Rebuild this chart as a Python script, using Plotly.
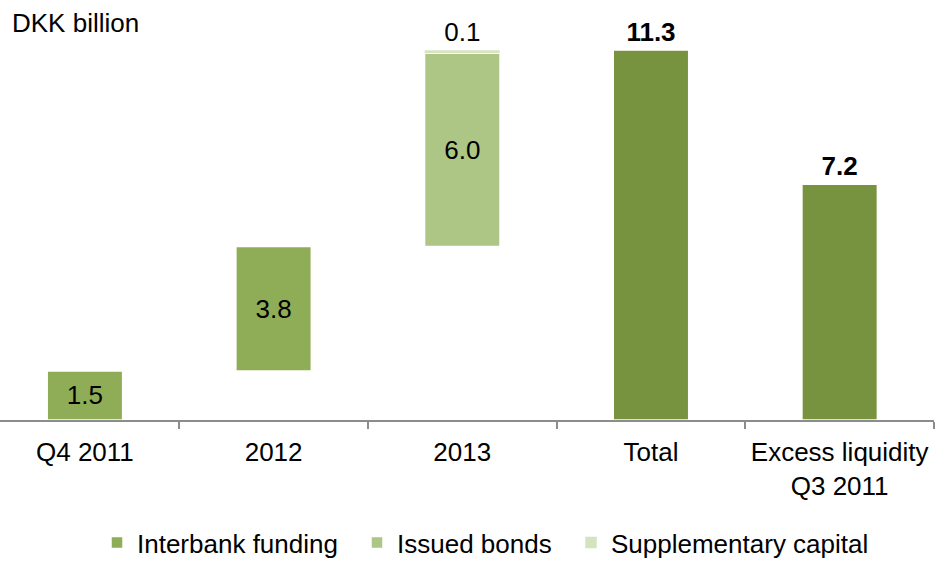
import plotly.graph_objects as go
import numpy as np

categories = ["Q4 2011", "2012", "2013", "Total", "Excess liquidity<br>Q3 2011"]

interbank_x = ["Q4 2011", "2012"]
interbank_vals = [1.5, 3.8]
interbank_labels = ["1.5", "3.8"]

bonds_x = ["2013"]
bonds_vals = [5.9]
bonds_labels = ["6.0"]

supp_x = ["2013"]
supp_vals = [0.1]
supp_labels = ["0.1"]

total_x = ["Total", "Excess liquidity<br>Q3 2011"]
total_vals = [11.3, 7.2]
total_labels = ["<b>11.3</b>", "<b>7.2</b>"]

# waterfall bases from cumulative sums
steps = interbank_vals + bonds_vals + supp_vals
cum = np.concatenate([[0], np.cumsum(steps)])
interbank_base = list(cum[0:2])
bonds_base = list(cum[2:3])
supp_base = list(cum[3:4])

C_INTER = "#8FAD56"
C_BONDS = "#ADC585"
C_SUPP = "#D5E3BF"
C_TOTAL = "#78933F"

FONT = "Liberation Sans, Arial, sans-serif"
FS = 26
W = 0.4
line = dict(color="white", width=1.5)

fig = go.Figure()
fig.add_bar(x=interbank_x, y=interbank_vals, base=interbank_base, name="Interbank funding",
            marker=dict(color=C_INTER, line=line), width=W, legend="legend",
            text=interbank_labels, textposition="inside", insidetextanchor="middle",
            textfont=dict(color="black", size=FS, family=FONT), textangle=0, hoverinfo="skip")
fig.add_bar(x=bonds_x, y=bonds_vals, base=bonds_base, name="Issued bonds",
            marker=dict(color=C_BONDS, line=line), width=W, legend="legend2",
            text=bonds_labels, textposition="inside", insidetextanchor="middle",
            textfont=dict(color="black", size=FS, family=FONT), textangle=0, hoverinfo="skip")
fig.add_bar(x=supp_x, y=supp_vals, base=supp_base, name="Supplementary capital",
            marker=dict(color=C_SUPP, line=dict(color="white", width=0.5)), width=W, legend="legend3",
            text=supp_labels, textposition="outside",
            textfont=dict(color="black", size=FS, family=FONT), textangle=0, hoverinfo="skip")
fig.add_bar(x=total_x, y=total_vals, name="Total", showlegend=False,
            marker=dict(color=C_TOTAL, line=line), width=W,
            text=total_labels, textposition="outside",
            textfont=dict(color="black", size=FS, family=FONT), textangle=0, hoverinfo="skip")

def leg(xpix):
    return dict(orientation="h", x=xpix / 934, xanchor="left", y=-0.292, yanchor="middle",
                font=dict(size=FS, family=FONT, color="black"), itemwidth=30,
                bgcolor="rgba(0,0,0,0)")

fig.update_layout(
    width=945, height=562,
    margin=dict(l=0, r=11, t=0, b=142, autoexpand=False),
    paper_bgcolor="white", plot_bgcolor="white",
    barmode="overlay",
    font=dict(family=FONT, size=FS, color="black"),
    showlegend=True,
    legend=leg(97), legend2=leg(357), legend3=leg(571),
)
fig.update_xaxes(categoryorder="array", categoryarray=categories, range=[-0.45, 4.5],
                 showline=True, linecolor="#8C8C8C", linewidth=1.5, automargin=False,
                 tickson="boundaries", ticks="outside", ticklen=7, tickcolor="#8C8C8C",
                 tickwidth=1.5, showgrid=False, ticklabelstandoff=8,
                 tickfont=dict(size=FS, family=FONT, color="black"))
fig.update_yaxes(range=[0, 12.83], visible=False, showgrid=False, zeroline=False, automargin=False)
fig.update_traces(cliponaxis=False)

fig.add_annotation(text="DKK billion", xref="paper", yref="paper", x=0, y=1,
                   xanchor="left", yanchor="top", xshift=10, yshift=-6, showarrow=False,
                   font=dict(size=FS, family=FONT, color="black"))

fig.write_html("out.html")
